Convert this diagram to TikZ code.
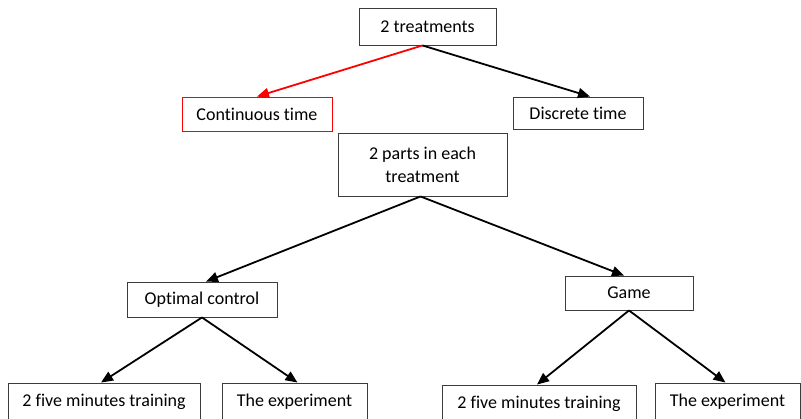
\documentclass[tikz,border=0pt]{standalone}
\usepackage{fontspec}
\setmainfont[Ligatures={NoCommon}]{Carlito}
\usetikzlibrary{arrows.meta}
\definecolor{boxgray}{RGB}{60,60,60}
\begin{document}
\begin{tikzpicture}[x=1pt,y=-1pt,
  box/.style={draw=boxgray,line width=0.9pt,rectangle,inner sep=0pt,align=center,
    font=\fontsize{18}{23}\selectfont,text=black},
  redbox/.style={box,draw=red},
  arr/.style={line width=1.8pt,-{Triangle[length=12pt,width=10pt]}},
  redarr/.style={arr,draw=red,fill=red}]
\useasboundingbox (0,0) rectangle (801,418);
\node[box,minimum width=137pt,minimum height=37pt] (t) at (427.5,26.5) {2 treatments};
\node[redbox,minimum width=150pt,minimum height=34pt] (ct) at (257,114) {Continuous time};
\node[box,minimum width=130pt,minimum height=32pt] (dt) at (578,113) {Discrete time};
\node[box,minimum width=169pt,minimum height=63pt] (p) at (422.5,164.5) {2 parts in each\\treatment};
\node[box,minimum width=150pt,minimum height=35pt] (oc) at (202,299.5) {Optimal control};
\node[box,minimum width=128pt,minimum height=34pt] (g) at (629,293) {Game};
\node[box,minimum width=192pt,minimum height=38pt] (b1) at (104,402) {2 five minutes training};
\node[box,minimum width=145pt,minimum height=38pt] (b2) at (294.5,402) {The experiment};
\node[box,minimum width=194pt,minimum height=38pt] (b3) at (539,404) {2 five minutes training};
\node[box,minimum width=145pt,minimum height=38pt] (b4) at (727.5,402) {The experiment};
\coordinate (ts) at ([xshift=-5pt]t.south);
\coordinate (dtn) at ([xshift=12pt]dt.north);
\draw[redarr] (ts) -- (ct.north);
\draw[arr] (ts) -- (dtn);
\draw[arr] ([xshift=-2pt]p.south) -- ([xshift=4pt]oc.north);
\draw[arr] ([xshift=-2pt]p.south) -- ([xshift=-5pt]g.north);
\draw[arr] (oc.south) -- ([xshift=-3pt]b1.north);
\draw[arr] (oc.south) -- ([xshift=3pt]b2.north);
\draw[arr] (g.south) -- ([xshift=-2pt]b3.north);
\draw[arr] (g.south) -- ([xshift=-2pt]b4.north);
\end{tikzpicture}
\end{document}
